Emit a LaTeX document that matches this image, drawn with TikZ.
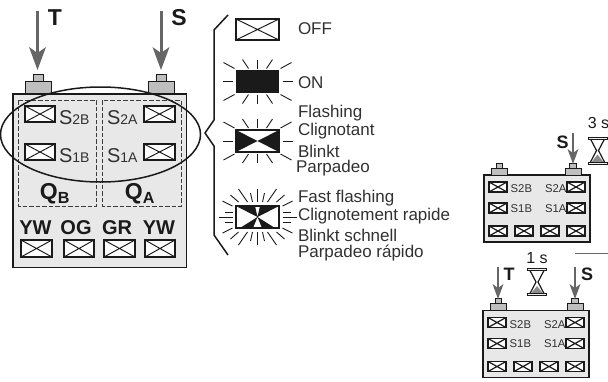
\documentclass[tikz,border=0pt]{standalone}
\usepackage{fontspec}
\setmainfont{Liberation Sans}
\definecolor{bodyfill}{HTML}{E8E8E8}
\definecolor{portfill}{HTML}{BEBEBE}
\definecolor{arrowgray}{HTML}{666666}
\definecolor{ink}{HTML}{1A1A1A}
\tikzset{
  x=1pt,y=-1pt,
  devbody/.style={draw=ink,line width=1.2pt,fill=bodyfill},
  portbox/.style={draw=ink,line width=.9pt,fill=portfill,inner sep=0pt,outer sep=0pt},
  ledoff/.style={draw=ink,line width=1.2pt,fill=white},
  dashbox/.style={draw=ink!85,line width=.7pt,dash pattern=on 4.5pt off 2pt},
  downarrow/.style={draw=arrowgray,line width=3pt},
  ray/.style={draw=ink,line width=.9pt},
  lab/.style={inner sep=0pt,outer sep=0pt,anchor=west,text=ink!90},
  legend/.style={lab,font=\fontsize{17}{19}\selectfont},
  tag/.style={inner sep=0pt,outer sep=0pt,text=ink,font=\fontsize{20}{22}\selectfont\bfseries},
  bigtag/.style={tag,font=\fontsize{23}{25}\selectfont\bfseries},
  midtag/.style={tag,font=\fontsize{18}{20}\selectfont\bfseries},
  small/.style={lab,font=\fontsize{11.3}{13}\selectfont},
  timelab/.style={inner sep=0pt,outer sep=0pt,text=ink,font=\fontsize{16}{18}\selectfont},
}
\newcommand{\ledx}[5][1.2pt]{\draw[ledoff,line width=#1] (#2,#3) rectangle (#4,#5);
  \draw[draw=ink,line width=.8*#1] (#2,#3) -- (#4,#5) (#2,#5) -- (#4,#3);}
\newcommand{\raypair}[6]{\foreach \sx/\sy in {1/1,-1/1,1/-1,-1/-1}
  \draw[ray] (#1+\sx*#3,#2+\sy*#4) -- (#1+\sx*#5,#2+\sy*#6);}
\newcommand{\hourglass}[2]{%
  \begin{scope}[shift={(#1,#2)}]
   \fill[black!45] (-6,11.5) -- (0,4) -- (6,11.5) -- cycle;
   \draw[draw=ink,line width=1pt,fill=bodyfill!60] (-9.5,-13.5) rectangle (9.5,-11.5);
   \draw[draw=ink,line width=1pt,fill=bodyfill!60] (-9.5,11.5) rectangle (9.5,13.5);
   \draw[draw=ink,line width=1.2pt] (-7,-11.5) -- (-1,0) -- (-7,11.5) (7,-11.5) -- (1,0) -- (7,11.5);
  \end{scope}}
\newcommand{\smalldev}[4]{% id, dx, dy, right-port x
  \begin{scope}[shift={(#2,#3)}]
   \draw[devbody] (484,175) rectangle (590,242);
   \node[portbox,minimum width=6.5pt,minimum height=5pt] (#1lt) at (499.5,165.5) {};
   \node[portbox,minimum width=16pt,minimum height=7pt] (#1lb) at (499,171.5) {};
   \node[portbox,minimum width=6.5pt,minimum height=5pt] (#1rt) at (#4,165.5) {};
   \node[portbox,minimum width=16pt,minimum height=7pt] (#1rb) at (#4,171.5) {};
   \foreach \yy in {182,203}{\ledx[1.5pt]{489}{\yy}{507}{\yy+10}\ledx[1.5pt]{567}{\yy}{585}{\yy+10}}
   \foreach \xx in {489,515,541,567}{\ledx[1.5pt]{\xx}{226}{\xx+18}{236}}
   \node[small] (#1sb) at (510.7,189) {S2B};
   \node[small] (#1sa) at (545,189) {S2A};
   \node[small] (#1tb) at (510.7,208.5) {S1B};
   \node[small] (#1ta) at (545,208.5) {S1A};
  \end{scope}}
\newcommand{\sub}[2]{\fontsize{20}{22}\selectfont #1\fontsize{14}{16}\selectfont #2}
\begin{document}
\begin{tikzpicture}
\useasboundingbox (0,0) rectangle (608,381);
% main device
\draw[devbody] (13,94) rectangle (186.5,267.5);
\node[portbox,minimum width=10pt,minimum height=6.5pt] (ptT) at (38,78) {};
\node[portbox,minimum width=26pt,minimum height=12pt] (pbT) at (38,87.5) {};
\node[portbox,minimum width=10pt,minimum height=6.5pt] (ptS) at (161,78) {};
\node[portbox,minimum width=26pt,minimum height=12pt] (pbS) at (161,87.5) {};
\coordinate (aT) at (37.5,11);
\coordinate (aS) at (161,11);
\draw[downarrow] (aT) -- (37.5,55);
\draw[downarrow] (aS) -- (161,55);
\fill[arrowgray] (29,47) -- (37.5,53) -- (46,47) -- (37.5,70) -- cycle;
\fill[arrowgray] (152.5,47) -- (161,53) -- (169.5,47) -- (161,70) -- cycle;
\node[bigtag] (lT) at (55,18) {T};
\node[bigtag] (lS) at (179,18) {S};
\draw[dashbox] (18,100) rectangle (96.5,206);
\draw[dashbox] (102,100) rectangle (181,206);
\ledx{25}{106}{55}{122}
\ledx{25}{144}{55}{160}
\ledx{144}{106}{175}{122}
\ledx{144}{144}{175}{160}
\node[lab] (s2b) at (59,118) {\sub{S}{2B}};
\node[lab] (s1b) at (59,156) {\sub{S}{1B}};
\node[lab] (s2a) at (107,118) {\sub{S}{2A}};
\node[lab] (s1a) at (107,156) {\sub{S}{1A}};
\node[bigtag] (qb) at (55,194) {Q\textsubscript{B}};
\node[bigtag] (qa) at (140,194) {Q\textsubscript{A}};
\node[tag] (y1) at (35.5,228) {YW};
\node[tag] (og) at (76,228) {OG};
\node[tag] (gr) at (117,228) {GR};
\node[tag] (y2) at (159,228) {YW};
\ledx{21}{240}{52}{257}
\ledx{64}{240}{94}{257}
\ledx{104}{240}{135}{257}
\ledx{145}{240}{175}{257}
\draw[draw=ink,line width=1.5pt] (100.5,134.5) ellipse [x radius=100,y radius=47.5];
% brace
\draw[draw=ink,line width=1.5pt] (228,15) -- (214,30) -- (214,120) -- (205,133) -- (214,146) -- (214,235) -- (228,255);
% legend
\ledx{236}{19}{279}{40}
\node[legend] (off) at (298,29) {OFF};
\fill[ink] (236,70) rectangle (279,93);
\raypair{257.5}{81.5}{25}{0}{35}{0}
\raypair{257.5}{81.5}{0}{13}{0}{22}
\raypair{257.5}{81.5}{9}{13}{15}{22}
\raypair{257.5}{81.5}{23}{13}{34}{19}
\node[legend] (on) at (298,83) {ON};
\draw[draw=ink,line width=1.2pt,fill=white] (236,130) rectangle (279,152);
\fill[ink] (236,130) -- (257.5,141) -- (236,152) -- cycle (279,130) -- (257.5,141) -- (279,152) -- cycle;
\raypair{257.5}{141}{25}{0}{35}{0}
\raypair{257.5}{141}{0}{13}{0}{22}
\raypair{257.5}{141}{9}{13}{15}{22}
\raypair{257.5}{141}{23}{13}{34}{19}
\node[legend] (l1) at (298,113) {Flashing};
\node[legend] (l2) at (298,131) {Clignotant};
\node[legend] (l3) at (298,151) {Blinkt};
\node[legend] (l4) at (296,168) {Parpadeo};
\draw[draw=ink,line width=1.2pt,fill=white] (236,206) rectangle (279,228);
\fill[ink] (236,206) -- (255,206) -- (257.5,217) -- cycle (279,206) -- (260,206) -- (257.5,217) -- cycle
  (240,228) -- (253,228) -- (257.5,217) -- cycle (275,228) -- (262,228) -- (257.5,217) -- cycle;
\raypair{257.5}{217}{25}{0}{39}{0}
\raypair{257.5}{217}{25}{5}{33}{5}
\raypair{257.5}{217}{0}{15}{0}{28}
\raypair{257.5}{217}{5}{15}{7}{24}
\raypair{257.5}{217}{10}{15}{19}{28}
\raypair{257.5}{217}{19}{15}{27}{22}
\raypair{257.5}{217}{25}{11}{35}{16}
\node[legend] (l5) at (298,198) {Fast flashing};
\node[legend] (l6) at (298,216) {Clignotement rapide};
\node[legend] (l7) at (298,235) {Blinkt schnell};
\node[legend] (l8) at (298,253) {Parpadeo rápido};
% small device 1
\smalldev{a}{0}{0}{573}
\coordinate (sS) at (573,133);
\draw[downarrow,line width=2.4pt] (sS) -- (573,155);
\fill[arrowgray] (567.5,149) -- (573,153) -- (578.5,149) -- (573,164) -- cycle;
\node[midtag] (laS) at (562.5,142) {S};
\hourglass{597.5}{150.5}
\node[timelab] (l3s) at (598.5,123) {3 s};
% small device 2
\smalldev{b}{-1}{135.5}{576}
\coordinate (sT) at (498,267);
\coordinate (sS2) at (575,267);
\draw[downarrow,line width=2.4pt] (sT) -- (498,290);
\fill[arrowgray] (492.5,284) -- (498,288) -- (503.5,284) -- (498,299) -- cycle;
\draw[downarrow,line width=2.4pt] (sS2) -- (575,290);
\fill[arrowgray] (569.5,284) -- (575,288) -- (580.5,284) -- (575,299) -- cycle;
\node[midtag] (lbT) at (509,274) {T};
\node[midtag] (lbS) at (587,274) {S};
\hourglass{537}{282}
\node[timelab] (l1s) at (537,258) {1 s};
\coordinate (lnA) at (575,253);
\coordinate (lnB) at (608,253);
\draw[draw=arrowgray,line width=.8pt] (lnA) -- (lnB);
\end{tikzpicture}
\end{document}
